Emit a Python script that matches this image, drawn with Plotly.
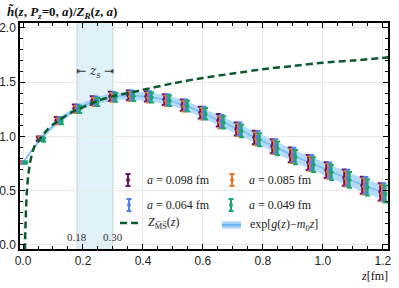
import plotly.graph_objects as go

# ---------------- data ----------------
z_vals = [0.00, 0.06, 0.12, 0.18, 0.24, 0.30, 0.36, 0.42, 0.48, 0.54, 0.60,
          0.66, 0.72, 0.78, 0.84, 0.90, 0.96, 1.02, 1.08, 1.14, 1.20]

h_a098 = [0.76, 0.98, 1.15, 1.26, 1.33, 1.37, 1.38, 1.37, 1.34, 1.29, 1.22,
          1.15, 1.07, 0.99, 0.91, 0.83, 0.76, 0.69, 0.62, 0.55, 0.49]
h_a085 = [0.76, 0.98, 1.14, 1.25, 1.32, 1.36, 1.37, 1.36, 1.33, 1.28, 1.21,
          1.13, 1.06, 0.98, 0.90, 0.82, 0.75, 0.68, 0.61, 0.54, 0.48]
h_a064 = [0.76, 0.98, 1.15, 1.26, 1.33, 1.37, 1.38, 1.37, 1.34, 1.29, 1.22,
          1.14, 1.07, 0.99, 0.91, 0.83, 0.76, 0.69, 0.62, 0.55, 0.49]
h_a049 = [0.76, 0.97, 1.14, 1.25, 1.32, 1.36, 1.37, 1.36, 1.33, 1.28, 1.21,
          1.13, 1.05, 0.97, 0.89, 0.81, 0.74, 0.67, 0.60, 0.53, 0.47]

err_a098 = [0.010, 0.020, 0.030, 0.035, 0.040, 0.042, 0.045, 0.048, 0.050, 0.052, 0.055,
            0.058, 0.060, 0.062, 0.065, 0.068, 0.070, 0.072, 0.075, 0.078, 0.080]
err_a085 = [0.010, 0.018, 0.028, 0.033, 0.038, 0.040, 0.043, 0.046, 0.048, 0.050, 0.053,
            0.055, 0.058, 0.060, 0.062, 0.065, 0.067, 0.070, 0.072, 0.075, 0.078]
err_a064 = [0.010, 0.019, 0.029, 0.034, 0.039, 0.041, 0.044, 0.047, 0.049, 0.051, 0.054,
            0.057, 0.059, 0.061, 0.064, 0.066, 0.069, 0.071, 0.074, 0.076, 0.079]
err_a049 = [0.010, 0.018, 0.028, 0.033, 0.038, 0.040, 0.043, 0.046, 0.048, 0.050, 0.053,
            0.056, 0.058, 0.060, 0.063, 0.065, 0.068, 0.070, 0.073, 0.075, 0.078]

band_z = z_vals
band_center = [0.76, 0.98, 1.145, 1.255, 1.325, 1.365, 1.375, 1.365, 1.335, 1.285, 1.215,
               1.14, 1.065, 0.985, 0.905, 0.825, 0.755, 0.685, 0.615, 0.545, 0.485]
band_half = [0.010, 0.020, 0.025, 0.030, 0.033, 0.035, 0.037, 0.040, 0.042, 0.044, 0.046,
             0.048, 0.050, 0.052, 0.054, 0.056, 0.058, 0.060, 0.062, 0.064, 0.066]

zms_z = [0.0065, 0.008, 0.010, 0.013, 0.017, 0.023, 0.030, 0.040, 0.050, 0.060, 0.080,
         0.100, 0.120, 0.160, 0.200, 0.250, 0.300, 0.400, 0.500, 0.600, 0.700, 0.800,
         0.900, 1.000, 1.100, 1.220]
zms_y = [-0.05, 0.15, 0.32, 0.50, 0.63, 0.75, 0.84, 0.92, 0.95, 0.99, 1.06,
         1.11, 1.15, 1.22, 1.27, 1.33, 1.37, 1.43, 1.49, 1.54, 1.58, 1.62,
         1.65, 1.68, 1.70, 1.73]

zs_window = [0.18, 0.30]
x_ticks = [0.0, 0.2, 0.4, 0.6, 0.8, 1.0, 1.2]
y_ticks = [0.0, 0.5, 1.0, 1.5, 2.0]

series = [
    ("a=0.098 fm", h_a098, err_a098, "#6a1462", -0.009),
    ("a=0.085 fm", h_a085, err_a085, "#e0772a", -0.003),
    ("a=0.064 fm", h_a064, err_a064, "#4f7ff0", 0.003),
    ("a=0.049 fm", h_a049, err_a049, "#17a870", 0.009),
]

BAND_FILL = "rgba(140,200,245,0.65)"
BAND_LINE = "#7cbcf0"
ZMS_COLOR = "#0b5a2c"
SERIF = "Liberation Serif"
SANS = "Liberation Sans"

fig = go.Figure()

# band exp[g(z)-m0 z]
upper = [c + h for c, h in zip(band_center, band_half)]
lower = [c - h for c, h in zip(band_center, band_half)]
fig.add_trace(go.Scatter(x=band_z, y=upper, mode="lines", line=dict(width=0, shape="spline"),
                         showlegend=False, hoverinfo="skip"))
fig.add_trace(go.Scatter(x=band_z, y=lower, mode="lines", line=dict(width=0, shape="spline"),
                         fill="tonexty", fillcolor=BAND_FILL, showlegend=False, hoverinfo="skip"))
fig.add_trace(go.Scatter(x=band_z, y=band_center, mode="lines",
                         line=dict(width=1.5, color=BAND_LINE, shape="spline"),
                         showlegend=False, hoverinfo="skip"))

# data with error bars
for name, vals, errs, col, off in series:
    fig.add_trace(go.Scatter(
        x=[z + off for z in z_vals], y=vals, mode="markers",
        marker=dict(size=4, color=col),
        error_y=dict(type="data", array=errs, visible=True, color=col, thickness=2, width=2.5),
        name=name, showlegend=False))

# Z_MS dashed curve
fig.add_trace(go.Scatter(x=zms_z, y=zms_y, mode="lines",
                         line=dict(color=ZMS_COLOR, width=2.5, dash="7px,4px", shape="spline",
                                   smoothing=0.6),
                         showlegend=False, hoverinfo="skip"))

# ---------- plot geometry (pixels) ----------
W, H = 399, 288
L, R, T, B = 20, 11, 23, 39
PW, PH = W - L - R, H - T - B


def px(xp):
    return (xp - L) / PW


def py(yp):
    return (H - B - yp) / PH


# ---------- manual legend on overlay axes ----------
leg_err = [(128, 180, series[0]), (232, 180, series[1]),
           (129, 205, series[2]), (231, 205, series[3])]
for xp, yp, (name, _, _, col, _) in leg_err:
    fig.add_trace(go.Scatter(x=[px(xp)], y=[py(yp)], xaxis="x2", yaxis="y2", mode="markers",
                             marker=dict(size=4, color=col),
                             error_y=dict(type="data", array=[6 / PH], visible=True, color=col,
                                          thickness=2, width=2.5),
                             showlegend=False, hoverinfo="skip"))
fig.add_trace(go.Scatter(x=[px(120), px(139)], y=[py(223), py(223)], xaxis="x2", yaxis="y2",
                         mode="lines", line=dict(color=ZMS_COLOR, width=2.5, dash="7px,4px"),
                         showlegend=False, hoverinfo="skip"))
fig.add_trace(go.Scatter(x=[px(222), px(241)], y=[py(225), py(225)], xaxis="x2", yaxis="y2",
                         mode="lines", line=dict(color="rgba(140,200,245,0.8)", width=7),
                         showlegend=False, hoverinfo="skip"))
fig.add_trace(go.Scatter(x=[px(222), px(241)], y=[py(225), py(225)], xaxis="x2", yaxis="y2",
                         mode="lines", line=dict(color="#5aa8ee", width=1.5),
                         showlegend=False, hoverinfo="skip"))

leg_text = [
    (145, 180, "<i>a</i> = 0.098 fm"),
    (247, 180, "<i>a</i> = 0.085 fm"),
    (145, 205, "<i>a</i> = 0.064 fm"),
    (247, 205, "<i>a</i> = 0.049 fm"),
    (146, 223, "<i>Z</i><sub>M\u0305S\u0305</sub>(<i>z</i>)"),
    (248, 225, "exp[<i>g</i>(<i>z</i>)\u2212<i>m</i><sub>0</sub><i>z</i>]"),
]
for xp, yp, txt in leg_text:
    fig.add_annotation(x=px(xp), y=py(yp), xref="x2", yref="y2", text=txt, showarrow=False,
                       xanchor="left", yanchor="middle",
                       font=dict(family=SERIF, size=12, color="#222"))

# z_s window
fig.add_shape(type="rect", x0=zs_window[0], x1=zs_window[1], y0=0, y1=1, xref="x", yref="paper",
              fillcolor="#dff2f8", line=dict(width=0), layer="below")
for zz in zs_window:
    fig.add_shape(type="line", x0=zz, x1=zz, y0=0, y1=1, xref="x", yref="paper",
                  line=dict(color="rgba(150,175,185,0.45)", width=1), layer="below")
    fig.add_annotation(x=zz, y=0.07, text=f"{zz:.2f}", showarrow=False,
                       font=dict(family=SERIF, size=11, color="#333"))
fig.add_annotation(x=sum(zs_window) / 2, y=1.59,
                   text="\u21e4 <i>z<sub>s</sub></i> \u21e5", showarrow=False,
                   font=dict(family="DejaVu Serif", size=12, color="#333"))

# title and x label
fig.add_annotation(xref="paper", yref="paper", x=px(5), y=py(12), xanchor="left",
                   yanchor="middle",
                   text="<b><i>h\u0303</i>(<i>z</i>, <i>P<sub>z</sub></i>=0, <i>a</i>)/"
                        "<i>Z<sub>R</sub></i>(<i>z</i>, <i>a</i>)</b>",
                   showarrow=False, font=dict(family=SERIF, size=13, color="#111"))
fig.add_annotation(xref="paper", yref="paper", x=px(390), y=py(276), xanchor="right",
                   yanchor="middle", text="<i>z</i>[fm]", showarrow=False,
                   font=dict(family=SERIF, size=12, color="#111"))

axis_common = dict(showline=True, linecolor="black", linewidth=1.5, mirror="allticks",
                   ticks="inside", ticklen=5, tickwidth=1, tickcolor="black",
                   showgrid=True, gridcolor="#e9e9e9", gridwidth=1, zeroline=False,
                   automargin=False,
                   tickfont=dict(family=SANS, size=12, color="#222"))

fig.update_layout(
    width=W, height=H,
    margin=dict(l=L, r=R, t=T, b=B, autoexpand=False),
    plot_bgcolor="white", paper_bgcolor="white",
    showlegend=False,
    xaxis=dict(range=[-0.01, 1.217], tickvals=x_ticks, ticktext=[f"{v:.1f}" for v in x_ticks],
               minor=dict(dtick=0.05, ticks="inside", ticklen=3, tickcolor="black", showgrid=False),
               **axis_common),
    yaxis=dict(range=[-0.037, 2.046], tickvals=y_ticks, ticktext=[f"{v:.1f}" for v in y_ticks],
               minor=dict(dtick=0.1, ticks="inside", ticklen=3, tickcolor="black", showgrid=False),
               **axis_common),
    xaxis2=dict(overlaying="x", range=[0, 1], visible=False, fixedrange=True),
    yaxis2=dict(overlaying="y", range=[0, 1], visible=False, fixedrange=True),
)

fig.write_html("out.html", config={"displayModeBar": False},
               post_script="document.body.style.margin='0';document.body.style.padding='0';")
